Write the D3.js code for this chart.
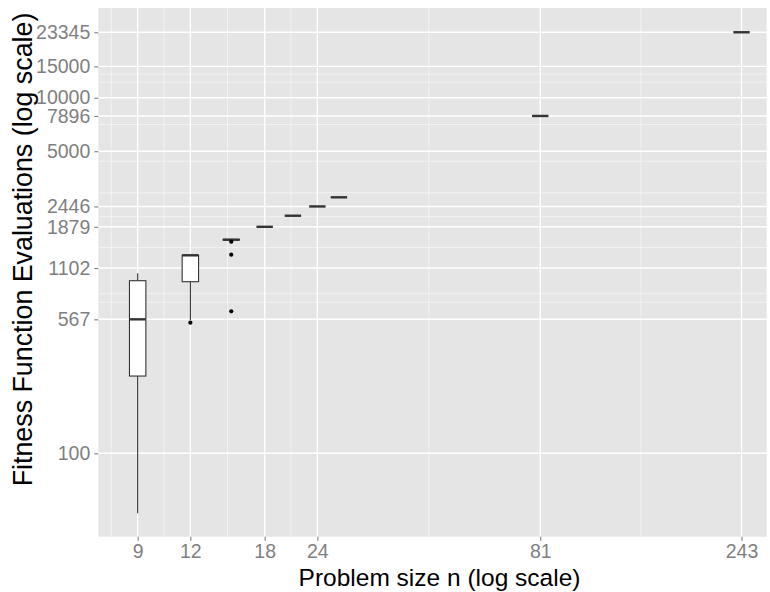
<!DOCTYPE html>
<html>
<head>
<meta charset="utf-8">
<script src="https://cdn.jsdelivr.net/npm/d3@7"></script>
<style>
  body { margin: 0; background: #fff; }
  text { font-family: "Liberation Sans", Arial, sans-serif; }
</style>
</head>
<body>
<svg id="chart" width="770" height="592"></svg>
<script>
// Problem sizes (x) and box-plot summaries of evaluations per size
const sizes        = [9,    12,   15,   18,   21,   24,   27,   81,   243];
const lowerWhisker = [46,   562,  1585, 1879, 2169, 2446, 2753, 7896, 23345];
const q1           = [272,  923,  1585, 1879, 2169, 2446, 2753, 7896, 23345];
const medians      = [567,  1299, 1590, 1879, 2169, 2446, 2753, 7896, 23345];
const q3           = [935,  1299, 1596, 1879, 2169, 2446, 2753, 7896, 23345];
const upperWhisker = [1029, 1316, 1596, 1879, 2169, 2446, 2753, 7896, 23345];
const outliers     = [[], [543], [1549, 1309, 629], [], [], [], [], [], []];

// Axis breaks
const xTicks = [9, 12, 18, 24, 81, 243];
const yTicks = [23345, 7896, 2446, 1879, 1102, 567, 15000, 10000, 5000, 100];

const svg = d3.select("#chart");
const panel = { left: 98.3, right: 766.7, top: 8, bottom: 536.7 };

const x = d3.scaleLog().domain([7.26, 278.8]).range([panel.left, panel.right]);
const y = d3.scaleLog().domain([33.96, 31960]).range([panel.bottom, panel.top]);

// minor breaks: geometric midpoints between consecutive breaks
const xMinor = [];
const xs = xTicks.slice();
xs.unshift(xs[0] * xs[0] / xs[1]);
for (let i = 0; i < xs.length - 1; i++) xMinor.push(Math.sqrt(xs[i] * xs[i + 1]));
const yMinor = [];
for (let i = 0; i < yTicks.length - 1; i++) yMinor.push(Math.sqrt(yTicks[i] * yTicks[i + 1]));

// panel background
svg.append("rect")
  .attr("x", panel.left).attr("y", panel.top)
  .attr("width", panel.right - panel.left).attr("height", panel.bottom - panel.top)
  .attr("fill", "#E5E5E5");

const grid = svg.append("g");
grid.selectAll(".ymin").data(yMinor.filter(v => y(v) > panel.top && y(v) < panel.bottom)).join("line")
  .attr("x1", panel.left).attr("x2", panel.right)
  .attr("y1", d => y(d)).attr("y2", d => y(d))
  .attr("stroke", "#F2F2F2").attr("stroke-width", 1);
grid.selectAll(".xmin").data(xMinor.filter(v => x(v) > panel.left && x(v) < panel.right)).join("line")
  .attr("y1", panel.top).attr("y2", panel.bottom)
  .attr("x1", d => x(d)).attr("x2", d => x(d))
  .attr("stroke", "#F2F2F2").attr("stroke-width", 1);
grid.selectAll(".ymaj").data(yTicks).join("line")
  .attr("x1", panel.left).attr("x2", panel.right)
  .attr("y1", d => y(d)).attr("y2", d => y(d))
  .attr("stroke", "#fff").attr("stroke-width", 1.4);
grid.selectAll(".xmaj").data(xTicks).join("line")
  .attr("y1", panel.top).attr("y2", panel.bottom)
  .attr("x1", d => x(d)).attr("x2", d => x(d))
  .attr("stroke", "#fff").attr("stroke-width", 1.4);

// boxes
const halfW = 8.2;
const stats = sizes.map((n, i) => ({
  n, lo: lowerWhisker[i], q1: q1[i], med: medians[i], q3: q3[i], hi: upperWhisker[i], out: outliers[i]
}));
const boxes = svg.append("g").selectAll("g").data(stats).join("g");
boxes.append("line")
  .attr("x1", d => x(d.n)).attr("x2", d => x(d.n))
  .attr("y1", d => y(d.hi)).attr("y2", d => y(d.q3))
  .attr("stroke", "#333").attr("stroke-width", 1.1);
boxes.append("line")
  .attr("x1", d => x(d.n)).attr("x2", d => x(d.n))
  .attr("y1", d => y(d.q1)).attr("y2", d => y(d.lo))
  .attr("stroke", "#333").attr("stroke-width", 1.1);
boxes.append("rect")
  .attr("x", d => x(d.n) - halfW).attr("width", 2 * halfW)
  .attr("y", d => y(d.q3)).attr("height", d => y(d.q1) - y(d.q3))
  .attr("fill", "#fff").attr("stroke", "#333").attr("stroke-width", 1.1);
boxes.append("line")
  .attr("x1", d => x(d.n) - halfW).attr("x2", d => x(d.n) + halfW)
  .attr("y1", d => y(d.med)).attr("y2", d => y(d.med))
  .attr("stroke", "#333").attr("stroke-width", 2.4);
boxes.selectAll("circle").data(d => d.out.map(v => ({ n: d.n, v }))).join("circle")
  .attr("cx", d => x(d.n)).attr("cy", d => y(d.v)).attr("r", 2.1)
  .attr("fill", "#000");

// axes
const fmt = d => String(d);
const xAxis = svg.append("g").attr("transform", `translate(0,${panel.bottom})`)
  .call(d3.axisBottom(x).tickValues(xTicks).tickFormat(fmt).tickSize(4).tickPadding(3));
const yAxis = svg.append("g").attr("transform", `translate(${panel.left},0)`)
  .call(d3.axisLeft(y).tickValues(yTicks).tickFormat(fmt).tickSize(4).tickPadding(4));
[xAxis, yAxis].forEach(a => {
  a.select(".domain").remove();
  a.selectAll(".tick line").attr("stroke", "#7F7F7F").attr("stroke-width", 1.1);
  a.selectAll(".tick text").attr("fill", "#7F7F7F")
    .style("font-family", '"Liberation Sans", Arial, sans-serif').style("font-size", "19.5px");
});

// axis titles
svg.append("text")
  .attr("x", 439.5).attr("y", 586)
  .attr("text-anchor", "middle").attr("font-size", 24.5).attr("fill", "#000")
  .text("Problem size n (log scale)");
svg.append("text")
  .attr("transform", "translate(31.5,249.5) rotate(-90)")
  .attr("text-anchor", "middle").attr("font-size", 26.8).attr("fill", "#000")
  .text("Fitness Function Evaluations (log scale)");
</script>
</body>
</html>
